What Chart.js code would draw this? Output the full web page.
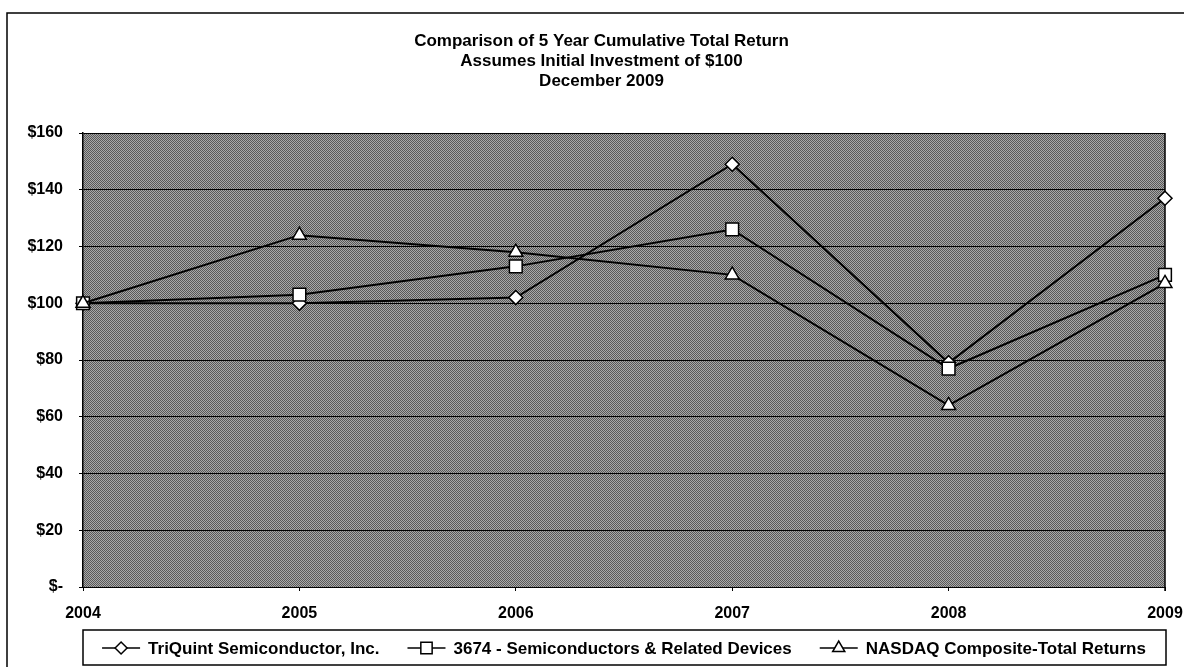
<!DOCTYPE html>
<html>
<head>
<meta charset="utf-8">
<script src="https://cdn.jsdelivr.net/npm/chart.js@4.4.1/dist/chart.umd.min.js"></script>
<style>
  html, body { margin:0; padding:0; background:#fff; }
  #wrap { width:1184px; height:667px; position:relative; }
</style>
</head>
<body>
<div id="wrap"><canvas id="chart" width="1184" height="667"></canvas></div>
<script>
const years    = ["2004","2005","2006","2007","2008","2009"];
const triquint = [100, 100, 102, 149, 79, 137];
const semis    = [100, 103, 113, 126, 77, 110];
const nasdaq   = [100, 124, 118, 110, 64, 107];
const seriesNames = [
  "TriQuint Semiconductor, Inc.",
  "3674 - Semiconductors & Related Devices",
  "NASDAQ Composite-Total Returns"
];
const titleLines = [
  "Comparison of 5 Year Cumulative Total Return",
  "Assumes Initial Investment of $100",
  "December 2009"
];

const FONT = "'Liberation Sans', Arial, sans-serif";
Chart.defaults.font.family = FONT;
Chart.defaults.color = "#000";

// dithered grey like the scanned plot area
function makeDither() {
  const c = document.createElement("canvas");
  c.width = 2; c.height = 2;
  const g = c.getContext("2d");
  g.fillStyle = "#a8a8a8"; g.fillRect(0,0,2,2);
  g.fillStyle = "#585858"; g.fillRect(0,0,1,1); g.fillRect(1,1,1,1);
  return g.createPattern(c, "repeat");
}

const markers = [
  { style: "rectRot",  r: 7 },
  { style: "rect",     r: 9 },
  { style: "triangle", r: 8 }
];
const seriesData = [triquint, semis, nasdaq];

// boxed legend under the plot, drawn by hand: "-<marker>- name"
const boxLegend = {
  id: "boxLegend",
  afterDraw(chart) {
    const { ctx, chartArea: a } = chart;
    const iconW = 38, textGap = 8, itemGap = 28, y = 648;
    ctx.save();
    ctx.font = "bold 17px " + FONT;
    ctx.textBaseline = "middle";
    ctx.fillStyle = "#000";
    const widths = chart.data.datasets.map(ds => ctx.measureText(ds.label).width);
    const total = widths.reduce((s, w) => s + iconW + textGap + w, 0) + itemGap * (widths.length - 1);
    let x = (a.left + a.right) / 2 - total / 2;
    chart.data.datasets.forEach((ds, i) => {
      ctx.strokeStyle = "#000"; ctx.lineWidth = 1.5;
      ctx.beginPath(); ctx.moveTo(x, y); ctx.lineTo(x + iconW, y); ctx.stroke();
      ctx.fillStyle = "#fff";
      Chart.helpers.drawPoint(ctx, { pointStyle: ds.pointStyle, radius: ds.pointRadius - 1, rotation: 0, borderWidth: 1.5 }, x + iconW / 2, y);
      ctx.fillStyle = "#000";
      ctx.fillText(ds.label, x + iconW + textGap, y + 1);
      x += iconW + textGap + widths[i] + itemGap;
    });
    ctx.strokeStyle = "#000"; ctx.lineWidth = 1.5;
    ctx.strokeRect(a.left, 630, a.right - a.left + 1, 35);
    ctx.restore();
  }
};

const frame = {
  id: "frame",
  afterLayout(chart) {
    // let tick labels spill outside their boxes (no clipping)
    chart.scales.y.left = 0;
    chart.scales.x.bottom = chart.height;
  },
  beforeDraw(chart) {
    const { ctx, chartArea: a } = chart;
    ctx.save();
    ctx.fillStyle = makeDither();
    ctx.fillRect(a.left, a.top, a.right - a.left, a.bottom - a.top);
    ctx.restore();
  },
  beforeDatasetsDraw(chart) {
    const { ctx, chartArea: a } = chart;
    ctx.save();
    ctx.strokeStyle = "#000"; ctx.lineWidth = 1.5;
    ctx.beginPath();
    ctx.moveTo(a.right, a.top); ctx.lineTo(a.right, a.bottom + 4);
    ctx.stroke();
    ctx.restore();
  },
  afterDraw(chart) {
    const { ctx } = chart;
    ctx.save();
    ctx.strokeStyle = "#000"; ctx.lineWidth = 1.5;
    // outer frame (top and left visible in scan)
    ctx.beginPath();
    ctx.moveTo(7, 667); ctx.lineTo(7, 13); ctx.lineTo(1184, 13);
    ctx.stroke();
    ctx.restore();
  }
};

new Chart(document.getElementById("chart"), {
  type: "line",
  data: {
    labels: years,
    datasets: seriesData.map((d, i) => ({
      label: seriesNames[i],
      data: d,
      borderColor: "#000",
      borderWidth: 2,
      backgroundColor: "#fff",
      pointStyle: markers[i].style,
      pointRadius: markers[i].r,
      pointBorderWidth: 1.5,
      pointBorderColor: "#000",
      pointBackgroundColor: "#fff",
      tension: 0,
      clip: false,
      order: 2 - i
    }))
  },
  options: {
    responsive: false,
    animation: false,
    devicePixelRatio: 1,
    layout: { padding: { left: 38, right: 19, top: 13, bottom: 0 } },
    plugins: {
      tooltip: { enabled: false },
      legend: { display: false },
      title: {
        display: true,
        text: titleLines,
        font: { size: 17, weight: "bold", lineHeight: 20 / 17 },
        padding: { top: 18, bottom: 42 }
      }
    },
    scales: {
      x: {
        offset: false,
        afterFit: (s) => {
          s.height = 667 - 587;
          s.paddingLeft = 0;
          s.paddingRight = 0;
        },
        grid: { drawOnChartArea: false, drawTicks: true, tickLength: 4, color: "#000" },
        border: { display: false },
        ticks: { padding: 13, maxRotation: 0, autoSkip: false, font: { size: 16, weight: "bold" } }
      },
      y: {
        min: 0,
        max: 160,
        afterFit: (s) => { s.width = 45; },
        grid: { color: "#000", lineWidth: 1, tickLength: 4 },
        border: { display: true, color: "#000", width: 1.5 },
        ticks: {
          stepSize: 20,
          padding: 16,
          font: { size: 16, weight: "bold" },
          callback: (v) => v === 0 ? "$-" : "$" + v
        }
      }
    }
  },
  plugins: [frame, boxLegend]
});
</script>
</body>
</html>
